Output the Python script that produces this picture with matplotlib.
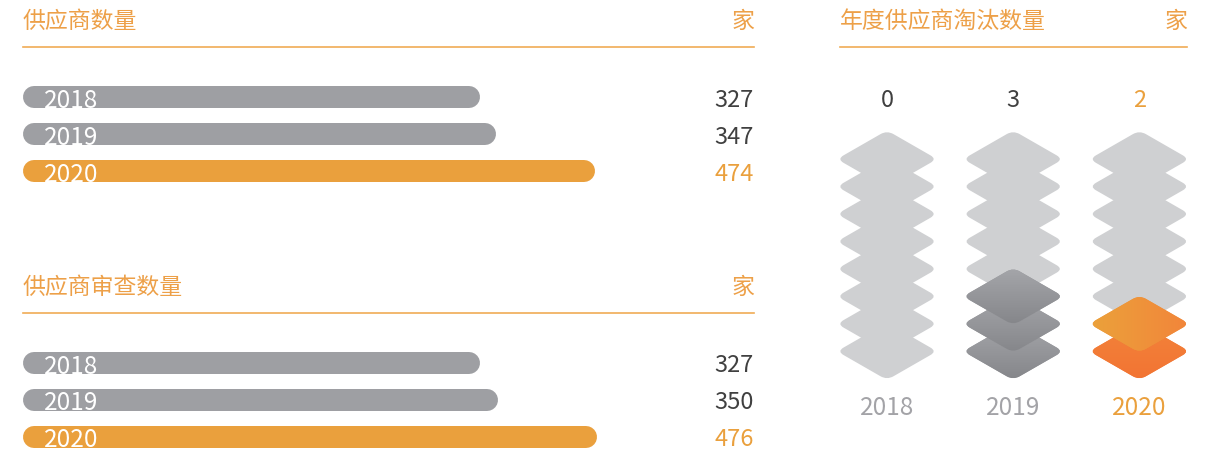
import numpy as np
import matplotlib
matplotlib.use('Agg')
import matplotlib.pyplot as plt
from matplotlib.path import Path
from matplotlib.patches import PathPatch
from matplotlib.lines import Line2D
import matplotlib.transforms as mtransforms
from matplotlib.colors import to_rgb

# ---------------- data ----------------
years = ['2018', '2019', '2020']
supplier_counts = [327, 347, 474]
audited_counts = [327, 350, 476]
eliminated_counts = [0, 3, 2]
slots_per_year = 8

title_supply = '供应商数量'
title_audit = '供应商审查数量'
title_elim = '年度供应商淘汰数量'
unit = '家'

# ---------------- style ----------------
plt.rcParams['font.family'] = ['Noto Sans CJK SC', 'DejaVu Sans']
W, H = 1220, 452
fig = plt.figure(figsize=(W / 100, H / 100), dpi=100)
fig.patch.set_facecolor('white')

ORANGE = '#EAA03D'
TITLE_ORANGE = '#EDA048'
RULE_ORANGE = '#F0AC55'
GRAY_BAR = '#9E9FA3'
DARK_TEXT = '#404040'
LIGHT_DIAMOND = '#CFD0D2'
YEAR_GRAY = '#A3A3A7'
FW = 'light'


def fx(px):
    return px / W


def fy(py):
    return 1 - py / H


def header(x0, x1, ytext, yline, title):
    fig.text(fx(x0), fy(ytext), title, color=TITLE_ORANGE, fontsize=16.5,
             ha='left', va='center', fontweight=FW)
    fig.text(fx(x1), fy(ytext), unit, color=TITLE_ORANGE, fontsize=16.5,
             ha='right', va='center', fontweight=FW)
    fig.add_artist(Line2D([fx(x0), fx(x1)], [fy(yline), fy(yline)],
                          color=RULE_ORANGE, lw=1.2))


header(23, 754, 21, 47.5, title_supply)
header(23, 754, 287, 313.5, title_audit)
header(840, 1187, 21, 47.5, title_elim)

# ---------------- bar panels ----------------
X_LEFT, X_RIGHT = -243, 691
BAR_BASE = -229
BAR_PX = 22


def bar_panel(center_px, values):
    spacing = 37
    top = center_px - spacing * 1.5
    height = spacing * 3
    ax = fig.add_axes([fx(23), fy(top + height), fx(754) - fx(23), height / H])
    ax.set_xlim(X_LEFT, X_RIGHT)
    ax.set_ylim(len(values) - 0.5, -0.5)
    ax.axis('off')
    ypos = np.arange(len(values))
    last = len(values) - 1
    colors = [ORANGE if i == last else GRAY_BAR for i in ypos]
    ax.hlines(ypos, BAR_BASE, values, colors=colors,
              linewidth=BAR_PX * 72 / 100, capstyle='round', clip_on=False)
    trans = mtransforms.blended_transform_factory(ax.transAxes, ax.transData)
    for i, (yr, v) in enumerate(zip(years, values)):
        ax.text((44 - 23) / 731, i, yr, transform=trans, color='white',
                fontsize=17.5, ha='left', va='center_baseline', fontweight=FW)
        ax.text(1.0, i, str(v), transform=trans,
                color=ORANGE if i == last else DARK_TEXT,
                fontsize=17, ha='right', va='center_baseline', fontweight=FW)
    return ax


bar_panel(135, supplier_counts)
bar_panel(400.5, audited_counts)

# ---------------- diamond pictogram ----------------
axd = fig.add_axes([fx(823.9), fy(390), (1202.5 - 823.9) / W, 270 / H])
XL, YL = (-0.5, 2.5), (-1.373, 8.46)
axd.axis('off')

HW = 0.396   # half width (x units)
HH = 1.045   # half height (slot units)


def rounded_diamond(cx, cy, hw, hh, t=0.13):
    V = np.array([[cx, cy + hh], [cx + hw, cy], [cx, cy - hh], [cx - hw, cy]])
    verts, codes = [], []
    for i in range(4):
        prev, cur, nxt = V[i - 1], V[i], V[(i + 1) % 4]
        a = cur + t * (prev - cur)
        b = cur + t * (nxt - cur)
        verts.append(a)
        codes.append(Path.MOVETO if i == 0 else Path.LINETO)
        verts += [cur, b]
        codes += [Path.CURVE3, Path.CURVE3]
    verts.append(verts[0])
    codes.append(Path.CLOSEPOLY)
    return Path(verts, codes)


def gradient(c0, c1, horizontal):
    c0, c1 = np.array(to_rgb(c0)), np.array(to_rgb(c1))
    s = np.linspace(0, 1, 64)[:, None]
    arr = c0 * (1 - s) + c1 * s
    return arr[None, :, :] if horizontal else arr[:, None, :]


def draw_diamond(cx, cy, z, face=None, grad=None):
    path = rounded_diamond(cx, cy, HW, HH)
    if grad is None:
        axd.add_patch(PathPatch(path, facecolor=face, edgecolor='none', zorder=z))
        return
    c0, c1, horizontal = grad
    mid = tuple((np.array(to_rgb(c0)) + np.array(to_rgb(c1))) / 2)
    patch = PathPatch(path, facecolor=mid, edgecolor='none', zorder=z)
    axd.add_patch(patch)
    im = axd.imshow(gradient(c0, c1, horizontal),
                    extent=[cx - HW, cx + HW, cy - HH, cy + HH],
                    origin='upper', aspect='auto', interpolation='bilinear',
                    zorder=z + 0.1)
    im.set_clip_path(patch)


last = len(years) - 1
for i, (yr, n) in enumerate(zip(years, eliminated_counts)):
    for j in range(slots_per_year):
        if j >= n:
            draw_diamond(i, j, 1, face=LIGHT_DIAMOND)
    for j in range(n):
        if i == last:
            if j == n - 1 and n > 1:
                g = ('#EBA23B', '#F2853A', True)
            else:
                g = ('#F3833A', '#F27433', False)
        else:
            g = ('#A5A6AA', '#85868A', False)
        draw_diamond(i, j, 2 + j, grad=g)

axd.set_xlim(*XL)
axd.set_ylim(*YL)
axd.set_aspect('auto')

tb = mtransforms.blended_transform_factory(axd.transData, fig.transFigure)
for i, (yr, n) in enumerate(zip(years, eliminated_counts)):
    hl = (i == last)
    axd.text(i, fy(98), str(n), transform=tb, color=ORANGE if hl else DARK_TEXT,
             fontsize=17, ha='center', va='center_baseline', fontweight=FW)
    axd.text(i, fy(405), yr, transform=tb, color=ORANGE if hl else YEAR_GRAY,
             fontsize=17.5, ha='center', va='center_baseline', fontweight=FW)

fig.savefig('out.png', dpi=100, facecolor='white')
